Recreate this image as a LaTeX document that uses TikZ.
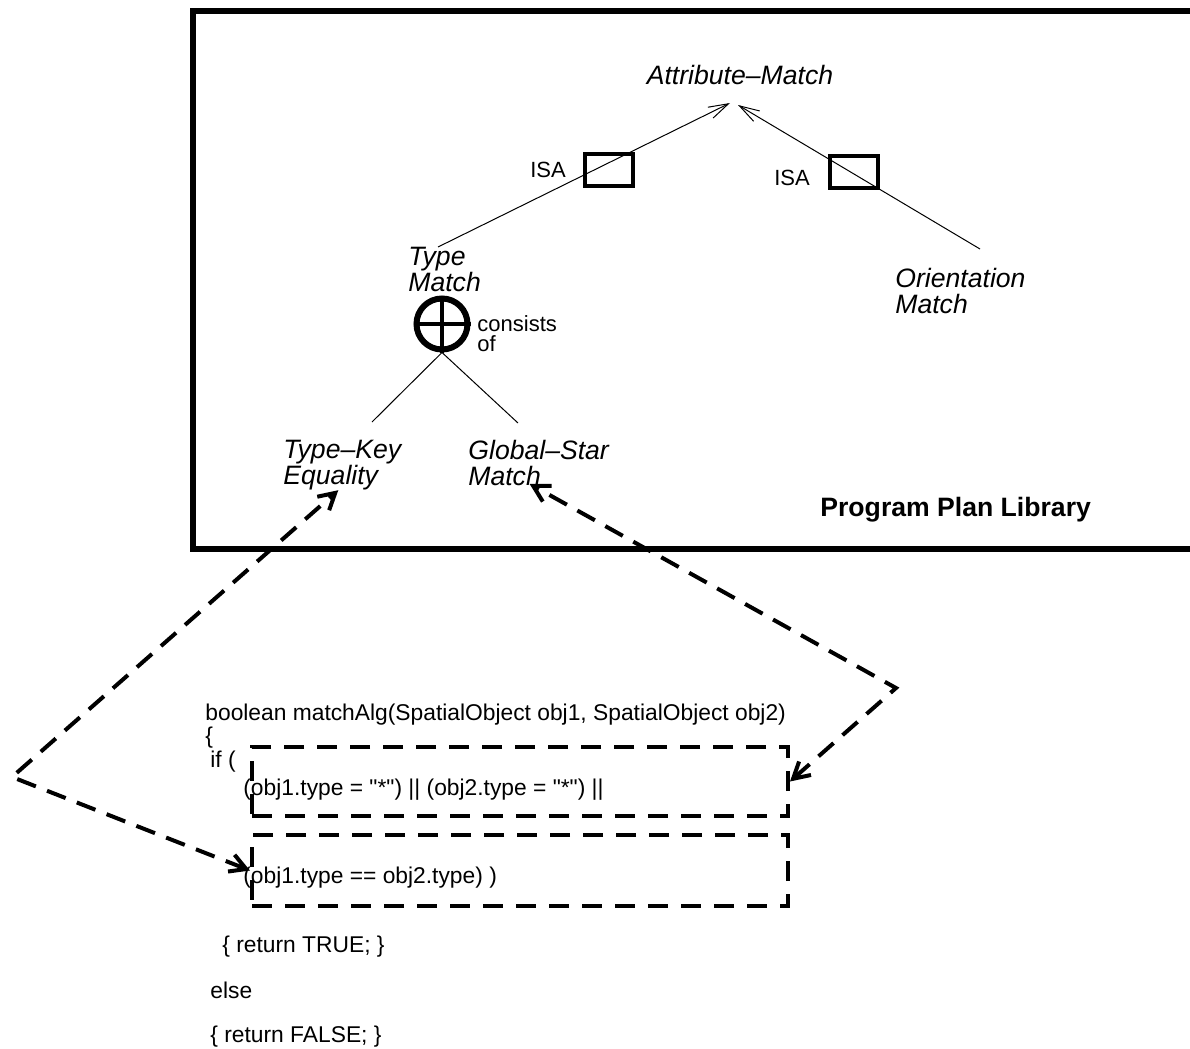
\documentclass[tikz,border=0pt]{standalone}
\usepackage{fontspec}
\setmainfont{Liberation Sans}[Ligatures=TeXOff]
\usetikzlibrary{arrows.meta,calc}
\tikzset{
  lbl/.style={font=\itshape\fontsize{13.3}{12.8}\selectfont, align=left, inner sep=0pt, anchor=north west},
  small/.style={font=\fontsize{11}{10}\selectfont, inner sep=0pt},
  code/.style={font=\fontsize{11.4}{12}\selectfont, inner sep=0pt, anchor=base west},
  isabox/.style={draw, line width=2.2pt, minimum width=23.8pt, minimum height=15.8pt, inner sep=0pt},
  link/.style={line width=0.5pt},
  isa/.style={link, -{Straight Barb[length=10pt,width=6pt]}},
  codebox/.style={draw, line width=2pt, dash pattern=on 10pt off 6.5pt, minimum width=268pt, inner sep=0pt},
  refer/.style={line width=2pt, dash pattern=on 10pt off 6pt, miter limit=20,
    {Straight Barb[length=8pt,width=9pt]}-{Straight Barb[length=8pt,width=9pt]}},
}
\begin{document}
\begin{tikzpicture}[x=0.5pt,y=-0.5pt]
  \useasboundingbox (0,0) rectangle (1190,1049);
  % library frame, open to the right
  \draw[line width=3pt] (1200,11) -- (193,11) -- (193,549) -- (1200,549);
  \node[font=\bfseries\fontsize{13.3}{14}\selectfont, inner sep=0pt, anchor=base west] (lib) at (820,516) {Program Plan Library};

  % plan hierarchy
  \node[lbl, anchor=base] (attr) at (740,84) {Attribute–Match};
  \node[lbl] (tm) at (408,247) {Type\\Match};
  \node[lbl] (orient) at (895,268) {Orientation\\Match};
  \node[lbl] (tke) at (283,440) {Type–Key\\Equality};
  \node[lbl] (gsm) at (468,440) {Global–Star\\Match};

  \node[isabox] (isaL) at (609,170) {};
  \node[isabox] (isaR) at (854,172) {};
  \node[small] (isaLtxt) at (548,170) {ISA};
  \node[small] (isaRtxt) at (792,178) {ISA};

  \coordinate (amL) at (730,103);
  \coordinate (amR) at (738,105);
  \coordinate (tmTop) at (438,247);
  \coordinate (orTop) at (980,249);
  \draw[isa] (tmTop) -- (amL);
  \draw[isa] (orTop) -- (amR);

  \node[draw, circle, line width=3pt, minimum size=25.5pt, inner sep=0pt] (cons) at (442,324) {};
  \draw[line width=2.4pt] (cons.north) -- (cons.south) (cons.west) -- (cons.east);
  \node[small, anchor=north west, align=left] (constxt) at (477,315) {consists\\of};

  \coordinate (tkeTop) at (372,422);
  \coordinate (gsmTop) at (518,423);
  \draw[link] (cons.south) -- (tkeTop);
  \draw[link] (cons.south) -- (gsmTop);

  % code fragment
  \node[code] (c1) at (205,720) {boolean matchAlg(SpatialObject obj1, SpatialObject obj2)};
  \node[code] (c2) at (205,743) {\{};
  \node[code] (c3) at (210,767) {if (};
  \node[code] (c4) at (243,795) {(obj1.type = "*") || (obj2.type = "*") ||};
  \node[code] (c5) at (243,883) {(obj1.type == obj2.type) )};
  \node[code] (c6) at (222,952) {\{ return TRUE; \}};
  \node[code] (c7) at (210,998) {else};
  \node[code] (c8) at (210,1042) {\{ return FALSE; \}};

  \node[codebox, minimum height=34.5pt] (box1) at (520,781.5) {};
  \node[codebox, minimum height=35.5pt] (box2) at (520,870.5) {};

  % references between plan and code
  \coordinate (lapex) at (12,777);
  \coordinate (rapex) at (896,688);
  \draw[refer] (box2.west) -- (lapex) -- ($(tke.south)+(-4,0)$);
  \draw[refer] (box1.east) -- (rapex) -- ($(gsm.south)+(-9,-2)$);
\end{tikzpicture}
\end{document}
